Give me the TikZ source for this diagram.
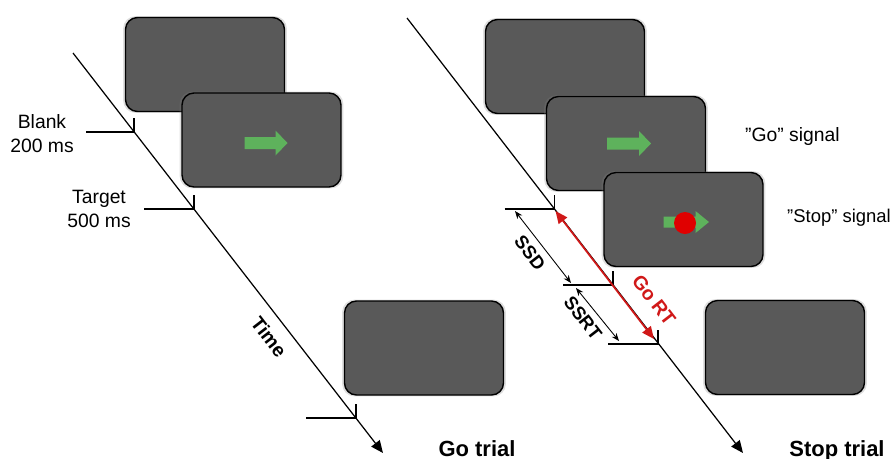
\documentclass[tikz,border=0pt]{standalone}
\usepackage{fontspec}
\setmainfont{Liberation Sans}
\usetikzlibrary{arrows.meta,shadows}
\definecolor{screengray}{RGB}{89,89,89}
\definecolor{gogreen}{RGB}{94,178,92}
\definecolor{stopred}{RGB}{224,0,0}
\definecolor{rtred}{RGB}{208,24,24}
\tikzset{
  screen/.style={draw=black, line width=0.8pt, fill=screengray, rounded corners=6.8pt,
    minimum width=3.18cm, minimum height=1.88cm,
    drop shadow={shadow xshift=0pt, shadow yshift=0pt, shadow scale=1.03, opacity=0.25}},
  timeline/.style={line width=0.7pt, -{Triangle[length=7pt,width=6pt]}},
  tick/.style={line width=0.6pt},
  span/.style={line width=0.5pt, {Stealth[length=4.5pt,width=3.5pt]}-{Stealth[length=4.5pt,width=3.5pt]}},
  rtspan/.style={rtred, line width=1pt, {Triangle[length=7pt,width=6pt]}-{Triangle[length=7pt,width=6pt]}},
  lbl/.style={font=\fontsize{11}{13.6}\selectfont, align=center},
  vlbl/.style={font=\fontsize{10.5}{12}\selectfont\bfseries, rotate=-52.3},
  trial/.style={font=\fontsize{12.5}{14}\selectfont\bfseries, anchor=base}
}
\begin{document}
\begin{tikzpicture}[x=0.02cm, y=-0.02cm]
  \useasboundingbox (0,0) rectangle (896,458);
  % go trial
  \coordinate (gs) at (73,53);
  \coordinate (ge) at (383,453);
  \coordinate (g1) at (134,132);
  \coordinate (g2) at (194,209);
  \coordinate (g3) at (356,418);
  \draw[timeline] (gs) -- (ge);
  \draw[tick] (g1) ++(-48,0) -- (g1) -- ++(0,-14);
  \draw[tick] (g2) ++(-50,0) -- (g2) -- ++(0,-14);
  \draw[tick] (g3) ++(-50,0) -- (g3) -- ++(0,-14);
  \node[screen] (gblank) at (205,64.5) {};
  \node[screen] (gtarget) at (261.5,140) {};
  \fill[gogreen, shift={(gtarget.center)}] (-17,-3) -- (14,-3) -- (14,-9.5) -- (26,3) -- (14,15.5) -- (14,9) -- (-17,9) -- cycle;
  \node[screen] (gend) at (424,348) {};
  \node[lbl] (blank) at (42,134) {Blank\\200 ms};
  \node[lbl] (target) at (99,208.5) {Target\\500 ms};
  \node[vlbl, font=\fontsize{11}{13}\selectfont\bfseries] (time) at (269,337) {Time};
  \node[trial] (gotrial) at (477,456) {Go trial};
  % stop trial
  \coordinate (ss) at (407,18);
  \coordinate (se) at (743,453);
  \coordinate (s1) at (554.5,209);
  \coordinate (s2) at (613,285);
  \coordinate (s3) at (658,344);
  \draw[timeline] (ss) -- (se);
  \node[screen] (sblank) at (565,66.5) {};
  \node[screen] (sgo) at (626,143.5) {};
  \fill[gogreen, shift={(sgo.center)}] (-19,-6) -- (13,-6) -- (13,-12.5) -- (25,0) -- (13,12.5) -- (13,6) -- (-19,6) -- cycle;
  \node[screen] (sstop) at (683.5,219.5) {};
  \fill[gogreen, shift={(sstop.center)}] (-20,-3) -- (12,-3) -- (12,-8.5) -- (25.5,2.5) -- (12,13.5) -- (12,8) -- (-20,8) -- cycle;
  \fill[stopred] ([shift={(1.5,3.5)}]sstop.center) circle (11);
  \node[screen] (send) at (785,347.5) {};
  \draw[tick] (s1) ++(-50,0) -- (s1) -- ++(0,-14);
  \draw[tick] (s2) ++(-50,0) -- (s2) -- ++(0,-14);
  \draw[tick] (s3) ++(-50,0) -- (s3) -- ++(0,-14);
  \coordinate (ssdA) at (515,211);
  \coordinate (ssdB) at (571,283);
  \coordinate (ssrtA) at (576,288);
  \coordinate (ssrtB) at (619,341);
  \draw[span] (ssdA) -- (ssdB);
  \draw[span] (ssrtA) -- (ssrtB);
  \draw[rtspan] ([shift={(1,2)}]s1) -- ([shift={(-4,-5)}]s3);
  \node[vlbl] (ssd) at (530,253) {SSD};
  \node[vlbl] (ssrt) at (583,318) {SSRT};
  \node[vlbl, text=rtred, font=\fontsize{11}{13}\selectfont\bfseries] (gort) at (654,300) {Go RT};
  \node[lbl, anchor=west] (gosig) at (739,136) {”Go” signal};
  \node[lbl, anchor=west, font=\fontsize{10.5}{13}\selectfont] (stopsig) at (781,218) {”Stop” signal};
  \node[trial] (stoptrial) at (837,456) {Stop trial};
\end{tikzpicture}
\end{document}
